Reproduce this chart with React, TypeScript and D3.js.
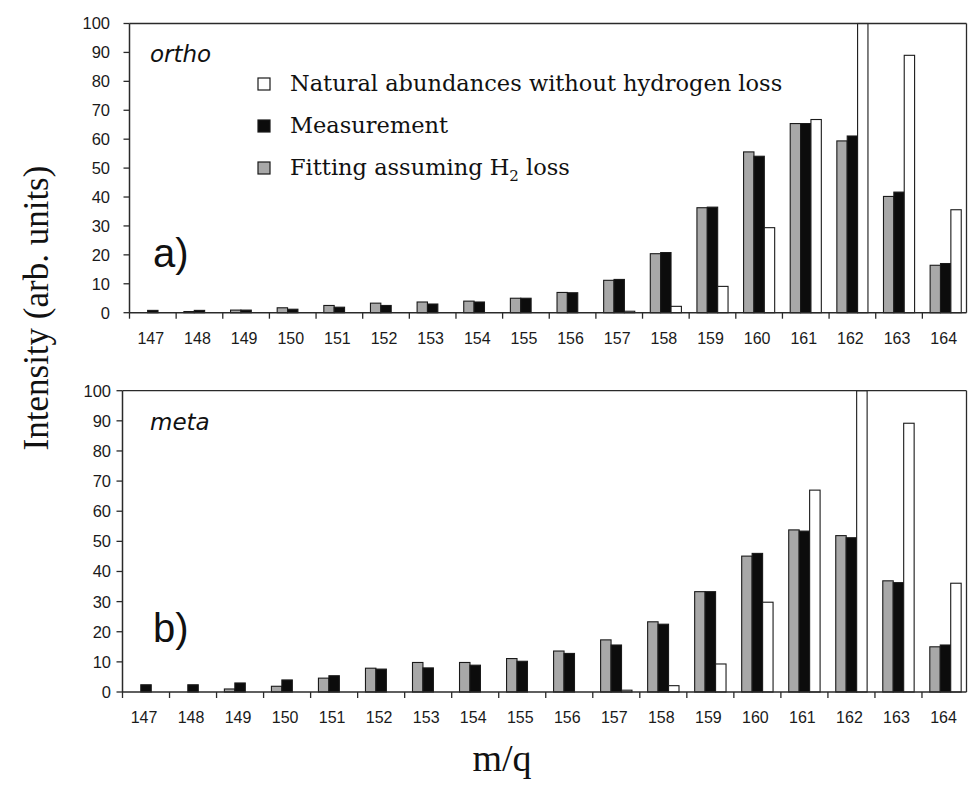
import React from 'react';
import * as d3 from 'd3';

// m/q channels
const massLabels = ['147', '148', '149', '150', '151', '152', '153', '154', '155',
    '156', '157', '158', '159', '160', '161', '162', '163', '164'];
const yTicks = [0, 10, 20, 30, 40, 50, 60, 70, 80, 90, 100];

// ortho (panel a)
const orthoFit = [0, 0.4, 0.9, 1.7, 2.5, 3.3, 3.7, 4.0, 5.0, 7.0, 11.2, 20.4, 36.3, 55.6, 65.4, 59.4, 40.2, 16.4];
const orthoMeasured = [0.8, 0.8, 0.9, 1.2, 1.9, 2.5, 3.0, 3.7, 5.0, 6.9, 11.5, 20.8, 36.5, 54.1, 65.4, 61.1, 41.7, 17.0];
const orthoNatural = [0, 0, 0, 0, 0, 0, 0, 0, 0, 0, 0.5, 2.2, 9.1, 29.4, 66.8, 100, 89.0, 35.6];

// meta (panel b)
const metaFit = [0, 0, 1.0, 1.9, 4.6, 7.9, 9.8, 9.8, 11.1, 13.6, 17.3, 23.3, 33.3, 45.1, 53.8, 51.9, 36.9, 15.0];
const metaMeasured = [2.4, 2.4, 3.0, 4.0, 5.4, 7.6, 8.0, 8.9, 10.2, 12.8, 15.6, 22.5, 33.3, 46.0, 53.4, 51.2, 36.3, 15.6];
const metaNatural = [0, 0, 0, 0, 0, 0, 0, 0, 0, 0, 0.6, 2.1, 9.3, 29.8, 67.0, 100, 89.2, 36.1];

const seriesKeys = ['fit', 'measured', 'natural'];
const seriesFill = { fit: '#a8a8a8', measured: '#0c0c0c', natural: '#ffffff' };

const W = 968, H = 785;
const axisColor = '#2a2a2a';
const sans = '"Liberation Sans", Arial, sans-serif';
const serif = '"Liberation Serif", "Times New Roman", serif';

function Panel({ fit, measured, natural, left, top, bottom, name, letter, labelRight, letterY, nameY }) {
    const x = d3.scaleBand().domain(massLabels).range([left, 969]);
    const inner = d3.scaleBand().domain(seriesKeys).range([0, x.step() * 0.667]);
    const pad = (x.step() - x.step() * 0.667) / 2;
    const y = d3.scaleLinear().domain([0, 100]).range([bottom, top]);
    const data = { fit, measured, natural };

    return (
        <g>
            {massLabels.map((m, i) => (
                <g key={m} transform={`translate(${x(m) + pad},0)`}>
                    {seriesKeys.map(k => data[k][i] > 0 ? (
                        <rect key={k} x={inner(k)} y={y(data[k][i])} width={inner.bandwidth()}
                              height={y(0) - y(data[k][i])} fill={seriesFill[k]}
                              stroke="#1a1a1a" strokeWidth={1.1} />
                    ) : null)}
                </g>
            ))}
            {/* frame: top and right */}
            <line x1={left} x2={966.5} y1={top} y2={top} stroke={axisColor} strokeWidth={1.3} />
            <line x1={966.5} x2={966.5} y1={top} y2={bottom} stroke={axisColor} strokeWidth={1.3} />
            {/* y axis */}
            <line x1={left} x2={left} y1={top} y2={bottom} stroke={axisColor} strokeWidth={1.5} />
            {yTicks.map(t => (
                <g key={t}>
                    <line x1={left - 6} x2={left} y1={y(t)} y2={y(t)} stroke={axisColor} strokeWidth={1.3} />
                    <text x={labelRight} y={y(t)} dy="0.36em" textAnchor="end" fontFamily={sans}
                          fontSize={16.5} fill="#1a1a1a">{t}</text>
                </g>
            ))}
            {/* x axis */}
            <line x1={left} x2={966.5} y1={bottom} y2={bottom} stroke={axisColor} strokeWidth={1.5} />
            {massLabels.map(m => (
                <g key={m}>
                    <line x1={x(m)} x2={x(m)} y1={bottom} y2={bottom + 6} stroke={axisColor} strokeWidth={1.3} />
                    <text x={x(m) + x.step() / 2 - 2} y={bottom + 31} textAnchor="middle" fontFamily={sans}
                          fontSize={16} fill="#1a1a1a">{m}</text>
                </g>
            ))}
            <text x={150} y={nameY} fontFamily='"DejaVu Sans", sans-serif' fontStyle="italic" fontSize={23} fill="#111">{name}</text>
            <text x={153} y={letterY} fontFamily={sans} fontSize={40} fill="#111">{letter}</text>
        </g>
    );
}

function Legend() {
    const items = [
        { key: 'natural', y: 91, label: 'Natural abundances without hydrogen loss' },
        { key: 'measured', y: 133, label: 'Measurement' },
        { key: 'fit', y: 175, label: 'Fitting assuming H', sub: '2', tail: ' loss' }
    ];
    return (
        <g>
            {items.map(it => (
                <g key={it.key}>
                    <rect x={258} y={it.y - 13} width={12} height={12} fill={seriesFill[it.key]}
                          stroke="#1a1a1a" strokeWidth={1.2} />
                    <text x={290} y={it.y} fontFamily='"DejaVu Serif", serif' fontSize={22.5} fill="#111">
                        {it.label}
                        {it.sub ? <tspan fontSize={15} dy={6}>{it.sub}</tspan> : null}
                        {it.tail ? <tspan dy={-6}>{it.tail}</tspan> : null}
                    </text>
                </g>
            ))}
        </g>
    );
}

export default function App() {
    return (
        <svg width={W} height={H} style={{ position: 'absolute', left: 0, top: 0, background: '#fff' }}>
            <Panel fit={orthoFit} measured={orthoMeasured} natural={orthoNatural}
                   left={129.5} top={23.5} bottom={312.7} name="ortho" letter="a)"
                   labelRight={110} nameY={62} letterY={267} />
            <Panel fit={metaFit} measured={metaMeasured} natural={metaNatural}
                   left={122.5} top={390.7} bottom={692} name="meta" letter="b)"
                   labelRight={111} nameY={430} letterY={642} />
            <Legend />
            <text transform="translate(48,308) rotate(-90)" textAnchor="middle" fontFamily={serif}
                  fontSize={35} fill="#111">Intensity (arb. units)</text>
            <text x={502} y={771} textAnchor="middle" fontFamily={serif} fontSize={38} fill="#111">m/q</text>
        </svg>
    );
}
